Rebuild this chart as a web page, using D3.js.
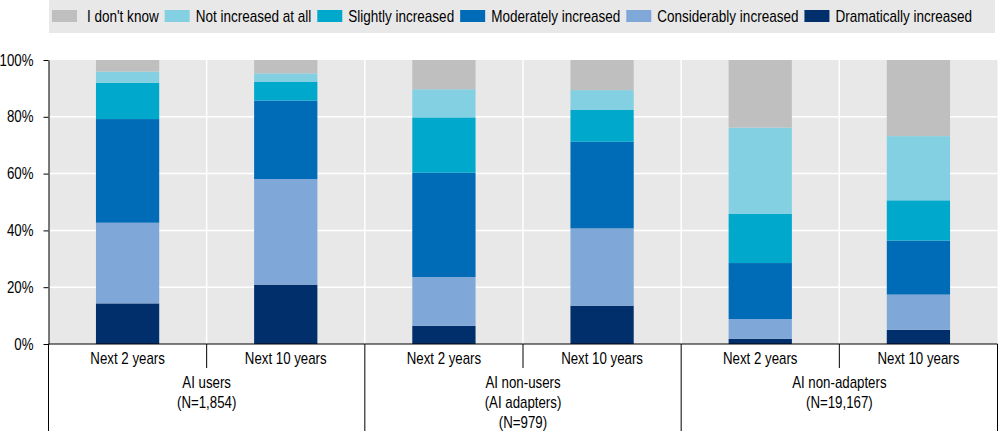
<!DOCTYPE html>
<html>
<head>
<meta charset="utf-8">
<title>AI and job expectations</title>
<script src="https://d3js.org/d3.v7.min.js"></script>
<style>
  body { margin: 0; background: #fff; }
  svg text { font-family: "Liberation Sans Narrow", "Arial Narrow", "Liberation Sans", Arial, sans-serif; fill: #000; font-size: 16px; }
</style>
</head>
<body>
<div id="chart"></div>
<script>
// sub-categories along the x axis (two per group)
const periods = ["Next 2 years", "Next 10 years", "Next 2 years", "Next 10 years", "Next 2 years", "Next 10 years"];
// group labels, one line per entry
const groupLabels = [
    ["AI users", "(N=1,854)"],
    ["AI non-users", "(AI adapters)", "(N=979)"],
    ["AI non-adapters", "(N=19,167)"]
];

// series, stacked bottom to top
const seriesNames = ["Dramatically increased", "Considerably increased", "Moderately increased",
    "Slightly increased", "Not increased at all", "I don't know"];
const dramatically = [14.3, 20.9, 6.4, 13.5, 1.8, 5.0];
const considerably = [28.4, 37.2, 17.2, 27.2, 7.0, 12.4];
const moderately   = [36.5, 27.6, 36.7, 30.5, 19.7, 19.0];
const slightly     = [12.8, 6.7, 19.5, 11.2, 17.3, 14.2];
const notAtAll     = [3.9, 2.9, 9.9, 7.0, 30.4, 22.6];
const dontKnow     = [4.1, 4.7, 10.3, 10.6, 23.8, 26.8];

// legend order as in the original
const legendOrder = ["I don't know", "Not increased at all", "Slightly increased",
    "Moderately increased", "Considerably increased", "Dramatically increased"];

const yTicks = [0, 20, 40, 60, 80, 100];

const colors = {
    "Dramatically increased": "#002f6c",
    "Considerably increased": "#7fa8d9",
    "Moderately increased": "#006bb6",
    "Slightly increased": "#00a9cc",
    "Not increased at all": "#83d0e2",
    "I don't know": "#bfbfbf"
};

const W = 1000, H = 431;
const plotLeft = 48.5, plotRight = 997.5, plotTop = 60, plotBottom = 344;

// no narrow font installed: squeeze regular text horizontally so it looks condensed
function squeeze(sel, k = 0.83) {
    sel.each(function () {
        const t = d3.select(this);
        const tx = +t.attr("x") || 0, ty = +t.attr("y") || 0;
        t.attr("x", 0).attr("y", 0)
            .attr("transform", `translate(${tx},${ty}) scale(${k},1)`);
        this.__w = this.getComputedTextLength() * k;
    });
}

const svg = d3.select("#chart").append("svg")
    .attr("width", W).attr("height", H);

// build table for the stack
const seriesValues = [dramatically, considerably, moderately, slightly, notAtAll, dontKnow];
const table = periods.map((p, i) => {
    const row = {idx: i};
    seriesNames.forEach((s, j) => row[s] = seriesValues[j][i]);
    return row;
});
const stacked = d3.stack().keys(seriesNames)(table);

const x = d3.scaleBand().domain(d3.range(periods.length)).range([plotLeft, plotRight]).padding(0);
const y = d3.scaleLinear().domain([0, 100]).range([plotBottom, plotTop]);

// plot background
svg.append("rect")
    .attr("x", plotLeft).attr("y", plotTop)
    .attr("width", plotRight - plotLeft).attr("height", plotBottom - plotTop)
    .attr("fill", "#e8e8e8");

// white grid lines
svg.append("g").selectAll("line")
    .data(yTicks.filter(d => d > 0 && d < 100))
    .join("line")
    .attr("x1", plotLeft).attr("x2", plotRight)
    .attr("y1", d => y(d)).attr("y2", d => y(d))
    .attr("stroke", "#fff").attr("stroke-width", 1.5);
svg.append("g").selectAll("line")
    .data(d3.range(1, periods.length))
    .join("line")
    .attr("x1", d => x(d)).attr("x2", d => x(d))
    .attr("y1", plotTop).attr("y2", plotBottom)
    .attr("stroke", "#fff").attr("stroke-width", 1.5);

// bars
const barW = x.bandwidth() * 0.4;
svg.append("g").selectAll("g")
    .data(stacked)
    .join("g")
    .attr("fill", d => colors[d.key])
    .selectAll("rect")
    .data(d => d)
    .join("rect")
    .attr("x", d => x(d.data.idx) + (x.bandwidth() - barW) / 2)
    .attr("y", d => y(d[1]))
    .attr("width", barW)
    .attr("height", d => y(d[0]) - y(d[1]));

// y axis
const yAxis = svg.append("g")
    .attr("transform", `translate(${plotLeft},0)`)
    .call(d3.axisLeft(y).tickValues(yTicks).tickFormat(d => d + "%").tickSize(5).tickSizeOuter(0));
yAxis.attr("font-size", null).attr("font-family", null);
yAxis.select(".domain").attr("stroke", "#000");
yAxis.selectAll(".tick line").attr("stroke", "#000");
yAxis.selectAll(".tick text")
    .attr("x", -15)
    .call(squeeze);

// x axis baseline
svg.append("line")
    .attr("x1", plotLeft).attr("x2", plotRight)
    .attr("y1", plotBottom).attr("y2", plotBottom)
    .attr("stroke", "#000").attr("stroke-width", 1.2);

// separators: short between periods, long between groups
svg.append("g").selectAll("line")
    .data(d3.range(0, periods.length + 1))
    .join("line")
    .attr("x1", d => d === periods.length ? plotRight : x(d))
    .attr("x2", d => d === periods.length ? plotRight : x(d))
    .attr("y1", plotBottom)
    .attr("y2", d => d % 2 === 0 ? H : plotBottom + 24)
    .attr("stroke", "#000").attr("stroke-width", 1);

// period labels
svg.append("g").selectAll("text")
    .data(periods)
    .join("text")
    .attr("x", (d, i) => x(i) + x.bandwidth() / 2)
    .attr("y", 364)
    .attr("text-anchor", "middle")
    .text(d => d)
    .call(squeeze);

// group labels, one text per line
const groupLines = groupLabels.flatMap((lines, g) => lines.map((t, k) => ({t, g, k})));
svg.append("g").selectAll("text")
    .data(groupLines)
    .join("text")
    .attr("x", d => x(d.g * 2) + x.bandwidth())
    .attr("y", d => 388 + d.k * 20)
    .attr("text-anchor", "middle")
    .text(d => d.t)
    .call(squeeze);

// legend
svg.append("rect")
    .attr("x", 49).attr("y", 0)
    .attr("width", 946).attr("height", 33)
    .attr("fill", "#e8e8e8");
const legend = svg.append("g");
let lx = 52;
legendOrder.forEach((name, i) => {
    legend.append("rect")
        .attr("x", lx).attr("y", 10)
        .attr("width", 25).attr("height", 12)
        .attr("fill", colors[name]);
    const tx = lx + (i === 0 ? 35 : 31);
    const t = legend.append("text")
        .attr("x", tx).attr("y", 22)
        .text(name)
        .call(squeeze, 0.845);
    lx = tx + t.node().__w + 6;
});
</script>
</body>
</html>
